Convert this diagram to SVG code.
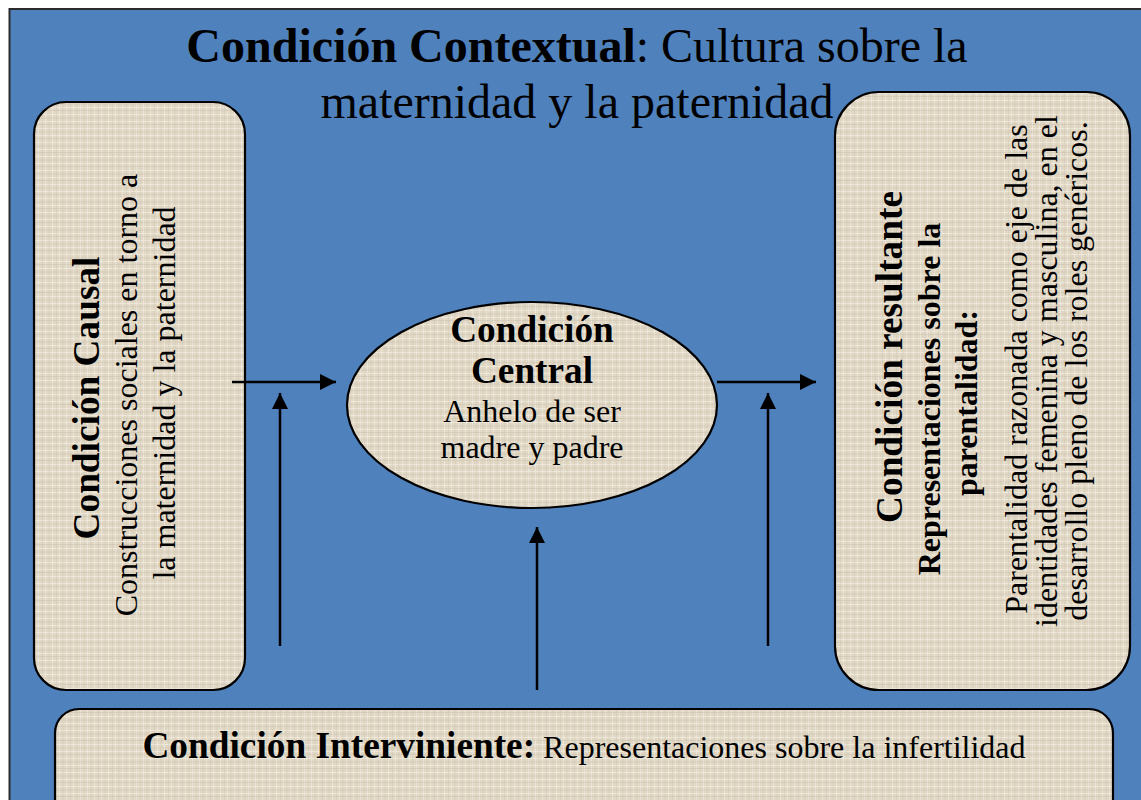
<svg xmlns="http://www.w3.org/2000/svg" width="1141" height="800" viewBox="0 0 1141 800">
<style>
  .t { font-family: "Liberation Serif", "Times New Roman", serif; fill: #000; }
  .b { font-weight: bold; }
  .s48 { font-size: 48px; }
  .s37 { font-size: 37.3px; }
  .s32 { font-size: 32px; }
  .box { fill: url(#linen); stroke: #000; stroke-width: 2.2; }
  .conn line { stroke: #000; stroke-width: 2.5; }
</style>
<defs>
  <pattern id="linen" patternUnits="userSpaceOnUse" width="14" height="14">
    <rect width="14" height="14" fill="#E0D7C4"/>
    <path d="M0 2.5H14M0 9.5H14" stroke="#F1EBDE" stroke-width="1.2" opacity="0.85"/>
    <path d="M3.5 0V14M10.5 0V14" stroke="#F0E9DC" stroke-width="1" opacity="0.75"/>
    <path d="M0 6H14M0 12.5H14" stroke="#CBC2AE" stroke-width="0.8" opacity="0.65"/>
    <path d="M7 0V14M0.5 0V14" stroke="#CFC6B2" stroke-width="0.7" opacity="0.55"/>
  </pattern>
  <marker id="ah" viewBox="0 0 10 10" refX="10" refY="5" markerWidth="6.4" markerHeight="6.4" markerUnits="strokeWidth" orient="auto">
    <path d="M0 0L10 5L0 10Z" fill="#000"/>
  </marker>
</defs>

<rect x="9.5" y="9" width="1140" height="800" fill="#4F81BD" stroke="#2b2b2b" stroke-width="2"/>

<g id="title">
  <text class="t s48" x="577" y="62" text-anchor="middle"><tspan class="b">Condición Contextual</tspan>: Cultura sobre la</text>
  <text class="t s48" x="577" y="118" text-anchor="middle">maternidad y la paternidad</text>
</g>

<g id="causal">
  <rect class="box" x="34" y="102" width="211" height="588" rx="32" ry="32"/>
  <text class="t b s37" transform="translate(99,398) rotate(-90)" text-anchor="middle">Condición Causal</text>
  <text class="t s32" transform="translate(137,395) rotate(-90)" text-anchor="middle">Construcciones sociales en torno a</text>
  <text class="t s32" transform="translate(175,393) rotate(-90)" text-anchor="middle">la maternidad y la paternidad</text>
</g>

<g id="central">
  <ellipse class="box" cx="532" cy="405" rx="185" ry="103"/>
  <text class="t b s37" x="532" y="342" text-anchor="middle">Condición</text>
  <text class="t b s37" x="532" y="383" text-anchor="middle">Central</text>
  <text class="t s32" x="532" y="422" text-anchor="middle">Anhelo de ser</text>
  <text class="t s32" x="532" y="458" text-anchor="middle">madre y padre</text>
</g>

<g id="resultante">
  <rect class="box" x="835" y="92" width="295" height="598" rx="44" ry="44"/>
  <text class="t b s37" transform="translate(902,357) rotate(-90)" text-anchor="middle">Condición resultante</text>
  <text class="t b s32" transform="translate(940,399) rotate(-90)" text-anchor="middle">Representaciones sobre la</text>
  <text class="t b s32" transform="translate(977,403) rotate(-90)" text-anchor="middle">parentalidad:</text>
  <text class="t s32" transform="translate(1027,369) rotate(-90)" text-anchor="middle">Parentalidad razonada como eje de las</text>
  <text class="t s32" transform="translate(1057,371) rotate(-90)" text-anchor="middle">identidades femenina y masculina, en el</text>
  <text class="t s32" transform="translate(1087,371) rotate(-90)" text-anchor="middle">desarrollo pleno de los roles genéricos.</text>
</g>

<g id="interviniente">
  <rect class="box" x="55" y="709" width="1058" height="120" rx="24" ry="24"/>
  <text class="t s32" x="584" y="758" text-anchor="middle"><tspan class="b s37">Condición Interviniente:</tspan> Representaciones sobre la infertilidad</text>
</g>

<g id="connectors" class="conn">
  <line x1="232" y1="382" x2="336" y2="382" marker-end="url(#ah)"/>
  <line x1="717" y1="382" x2="816" y2="382" marker-end="url(#ah)"/>
  <line x1="280" y1="646" x2="280" y2="393" marker-end="url(#ah)"/>
  <line x1="768" y1="646" x2="768" y2="393" marker-end="url(#ah)"/>
  <line x1="537" y1="690" x2="537" y2="527" marker-end="url(#ah)"/>
</g>
</svg>
